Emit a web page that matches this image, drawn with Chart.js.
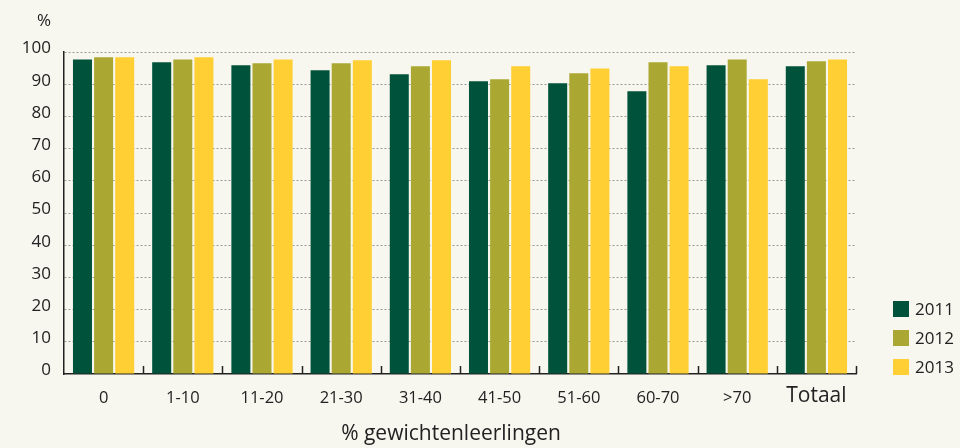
<!DOCTYPE html>
<html>
<head>
<meta charset="utf-8">
<script src="https://cdn.jsdelivr.net/npm/chart.js@4"></script>
<style>
    html, body{ margin:0; padding:0; background:#f7f7f0; }
    #wrap{ width:960px; height:448px; position:relative; }
</style>
</head>
<body>
<div id="wrap"><canvas id="chart"></canvas></div>
<script>
const categories = ["0","1-10","11-20","21-30","31-40","41-50","51-60","60-70",">70","Totaal"];
const years = ["2011","2012","2013"];
const values2011 = [97.7, 96.8, 95.9, 94.3, 93.1, 90.9, 90.3, 87.8, 95.9, 95.6];
const values2012 = [98.4, 97.7, 96.5, 96.5, 95.6, 91.5, 93.4, 96.8, 97.7, 97.1];
const values2013 = [98.4, 98.4, 97.7, 97.4, 97.4, 95.6, 94.9, 95.6, 91.5, 97.7];
const colors = ["#00533a", "#aaa832", "#ffcf33"];
const yMax = 100;
const yStep = 10;
const yTitle = "%";
const xTitle = "% gewichtenleerlingen";

const FONT = "'Open Sans', 'Noto Sans', sans-serif";
const TEXT = "#222";

// tick marks pointing up from the x axis, between the groups
const upTicks = {
    id:"upTicks",
    afterDatasetsDraw(chart){
        const x = chart.scales.x;
        const ctx = chart.ctx;
        const bottom = chart.chartArea.bottom;
        ctx.save();
        ctx.strokeStyle = TEXT;
        ctx.lineWidth = 1.5;
        for(let i = 1; i <= categories.length; i++){
            const px = Math.round(x.getPixelForValue(i - 0.5)) + 0.5;
            ctx.beginPath();
            ctx.moveTo(px, bottom);
            ctx.lineTo(px, bottom - 8);
            ctx.stroke();
        }
        ctx.restore();
    }
};

// "%" above the y labels, the x title and the legend on the right
const extraText = {
    id:"extraText",
    afterDraw(chart){
        const ctx = chart.ctx;
        const area = chart.chartArea;
        ctx.save();
        ctx.fillStyle = TEXT;
        ctx.textBaseline = "middle";

        ctx.font = `17px ${FONT}`;
        ctx.textAlign = "right";
        ctx.fillText(yTitle, area.left - 13, 21);

        ctx.font = `21px ${FONT}`;
        ctx.textAlign = "center";
        ctx.fillText(xTitle, 451, 434);

        ctx.font = `17px ${FONT}`;
        ctx.textAlign = "left";
        chart.data.datasets.forEach((ds, i) => {
            const top = area.bottom - 73 + i * 29;
            const left = area.right + 37;
            ctx.fillStyle = ds.backgroundColor;
            ctx.fillRect(left, top, 16, 16);
            ctx.fillStyle = TEXT;
            ctx.fillText(ds.label, left + 22, top + 9.5);
        });
        ctx.restore();
    }
};

const seriesValues = [values2011, values2012, values2013];

new Chart(document.getElementById("chart").getContext("2d"),{
    type:"bar",
    data:{
        labels:categories,
        datasets:years.map((y, i) => ({
            label:y,
            data:seriesValues[i],
            backgroundColor:colors[i],
            categoryPercentage:0.8,
            barPercentage:0.9
        }))
    },
    options:{
        responsive:true,
        maintainAspectRatio:false,
        devicePixelRatio:1,
        animation:false,
        layout:{ padding:{ top:52, right:104, left:0, bottom:0 } },
        plugins:{
            legend:{ display:false },
            tooltip:{ enabled:false }
        },
        scales:{
            x:{
                afterFit(scale){ scale.height = 74; },
                grid:{ display:false },
                border:{ display:true, color:TEXT, width:1.5 },
                ticks:{
                    color:TEXT,
                    padding:6,
                    maxRotation:0,
                    autoSkip:false,
                    font:(c) => c.index === categories.length - 1
                        ? { family:FONT, size:21, lineHeight:0.73 }
                        : { family:FONT, size:16.5, lineHeight:1.2 }
                }
            },
            y:{
                min:0,
                max:yMax,
                afterFit(scale){ scale.width = 64; },
                grid:{
                    drawTicks:false,
                    color:(c) => c.tick.value === 0 ? "rgba(0,0,0,0)" : "#999",
                    lineWidth:1
                },
                border:{ display:true, color:TEXT, width:1.5, dash:[2,2] },
                ticks:{
                    stepSize:yStep,
                    color:TEXT,
                    padding:13,
                    // empty second line lifts the label a little above its grid line
                    callback:(v) => [String(v), ""],
                    font:{ family:FONT, size:17, lineHeight:0.41 }
                }
            }
        }
    },
    plugins:[upTicks, extraText]
});
</script>
</body>
</html>
